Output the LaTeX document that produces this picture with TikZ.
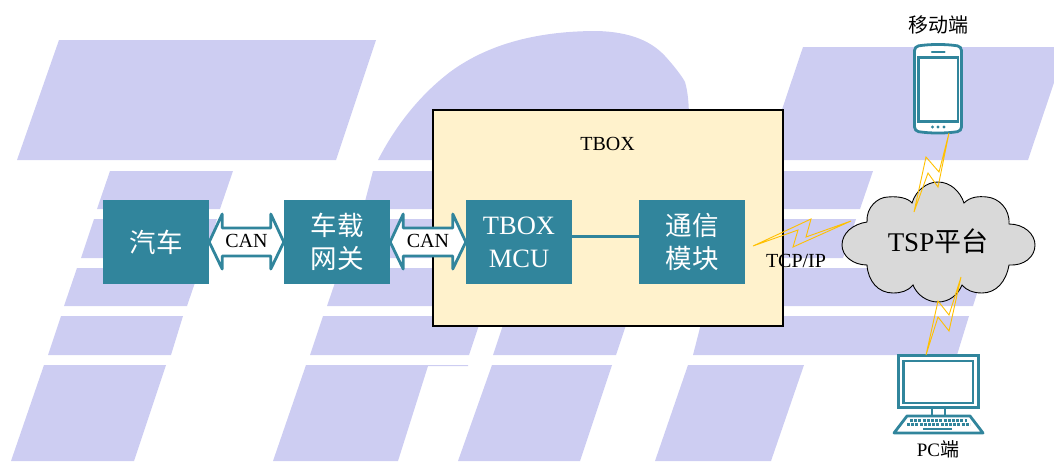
\documentclass[tikz,border=0pt]{standalone}
\usepackage{fontspec}
\setmainfont{Liberation Serif}
\newfontfamily\cjk{Noto Sans CJK SC}
\usetikzlibrary{calc}
\definecolor{bgblue}{HTML}{CDCDF2}
\definecolor{teal1}{HTML}{31859C}
\definecolor{cream}{HTML}{FFF2CC}
\definecolor{bolt}{HTML}{FFC000}
\definecolor{cloudgrey}{HTML}{D9D9D9}
\tikzset{
  bgshape/.style={fill=bgblue,draw=none},
  tealbox/.style={fill=teal1,text=white,minimum width=106pt,minimum height=84pt,inner sep=0pt,align=center,font=\fontsize{26.5}{33}\selectfont},
  canlabel/.style={inner sep=0pt,font=\fontsize{20}{24}\selectfont},
  plainlabel/.style={inner sep=0pt,font=\fontsize{20}{24}\selectfont},
  boltline/.style={draw=bolt,line width=0.9pt,line join=miter},
  devline/.style={draw=teal1,line width=2.8pt,fill=white},
  arrowline/.style={draw=teal1,line width=2.8pt,fill=white,line join=round}
}
\newcommand{\dblarrow}[2]{%
  \draw[arrowline] (#1.east) -- ($(#1.east)+(13,-28)$) -- ($(#1.east)+(13,-14)$)
    -- ($(#2.west)+(-13,-14)$) -- ($(#2.west)+(-13,-28)$) -- (#2.west)
    -- ($(#2.west)+(-13,27)$) -- ($(#2.west)+(-13,14)$)
    -- ($(#1.east)+(13,14)$) -- ($(#1.east)+(13,27)$) -- cycle;}
\begin{document}
\begin{tikzpicture}[x=1pt,y=-1pt]
\useasboundingbox (0,0) rectangle (1054,461);
\begin{scope}
\clip (0,0) rectangle (1054,461);
% background
\fill[bgshape] (59,40) -- (376,40) -- (336,160) -- (17,160) -- cycle;
\fill[bgshape] (110,171) -- (233,171) -- (220,209) -- (97,209) -- cycle;
\fill[bgshape] (94,219) -- (217,219) -- (205,258) -- (81,258) -- cycle;
\fill[bgshape] (77,268) -- (200,268) -- (187,306) -- (64,306) -- cycle;
\fill[bgshape] (61,316) -- (183,316) -- (171,355) -- (48,355) -- cycle;
\fill[bgshape] (44,365) -- (166,365) -- (134,461) -- (11,461) -- cycle;
\fill[bgshape] (378,160) .. controls (396,125) and (420,95) .. (450,72)
  .. controls (480,50) and (525,31) .. (597,31)
  .. controls (632,32) and (652,42) .. (665,56)
  .. controls (676,68) and (683,78) .. (685,82)
  .. controls (688,92) and (689,105) .. (689,120) -- (689,160) -- cycle;
\fill[bgshape] (803,47) -- (1066,47) -- (1028,160) -- (765,160) -- cycle;
\fill[bgshape] (373,171) -- (873,171) -- (860,209) -- (363,209) -- cycle;
\fill[bgshape] (357,219) -- (856,219) -- (843,258) -- (345,258) -- cycle;
\fill[bgshape] (340,268) -- (985,268) -- (973,306) -- (327,306) -- cycle;
\fill[bgshape] (323,316) -- (482,316) -- (469,355) -- (310,355) -- cycle;
\fill[bgshape] (506,316) -- (629,316) -- (616,355) -- (493,355) -- cycle;
\fill[bgshape] (703,316) -- (969,316) -- (957,355) -- (693,355) -- cycle;
\fill[bgshape] (306,365) -- (468,365) -- (468,366) -- (428,366) -- (398,461) -- (273,461) -- cycle;
\fill[bgshape] (492,365) -- (612,365) -- (580,461) -- (458,461) -- cycle;
\fill[bgshape] (688,365) -- (804,365) -- (771,461) -- (655,461) -- cycle;
\end{scope}
% TBOX frame
\node[draw=black,fill=cream,line width=1.5pt,minimum width=350pt,minimum height=216pt,inner sep=0pt] (tbox) at (608,218) {};
\node[plainlabel] (tboxlabel) at (607.5,144) {TBOX};
% boxes
\node[tealbox] (car) at (156,242) {\cjk 汽车};
\node[tealbox] (gw) at (337,242) {\cjk 车载\\\cjk 网关};
\node[tealbox] (mcu) at (519,242) {TBOX\\MCU};
\node[tealbox] (comm) at (692,242) {\cjk 通信\\\cjk 模块};
% connectors
\draw[teal1,line width=3pt] ($(mcu.east)+(0,-6)$) -- ($(comm.west)+(0,-6)$);
\dblarrow{car}{gw}
\dblarrow{gw}{mcu}
\node[canlabel] (can1) at (246.5,241) {CAN};
\node[canlabel] (can2) at (428,241) {CAN};
% cloud
\draw[fill=cloudgrey,draw=black,line width=0.9pt]
  (867,222) .. controls (866,207) and (878,197) .. (888,197)
  .. controls (898,196) and (908,198) .. (912,203)
  .. controls (916,190) and (927,182) .. (938,182)
  .. controls (950,182) and (960,191) .. (964,203)
  .. controls (970,197) and (978,196) .. (987,197)
  .. controls (998,198) and (1010,208) .. (1009,224)
  .. controls (1024,224) and (1035,234) .. (1035,245)
  .. controls (1035,257) and (1024,266) .. (1009,265)
  .. controls (1006,282) and (996,293) .. (982,293)
  .. controls (973,293) and (966,290) .. (962,285)
  .. controls (958,295) and (949,302) .. (938,302)
  .. controls (927,302) and (917,295) .. (913,285)
  .. controls (908,291) and (901,293) .. (893,293)
  .. controls (878,293) and (868,281) .. (867,265)
  .. controls (853,265) and (842,256) .. (842,245)
  .. controls (842,233) and (853,224) .. (867,222) -- cycle;
\node[inner sep=0pt,font=\fontsize{27}{32}\selectfont] (tsp) at (938,241) {TSP{\cjk 平台}};
% bolts
\draw[boltline] (753,246) -- (811,219) -- (806,237) -- (851,221) -- (793,247) -- (798,230) -- cycle;
\node[plainlabel] (tcp) at (796,261) {TCP/IP};
% phone
\draw[devline,rounded corners=4pt] (914.5,46.5) .. controls (930,44) and (946,44) .. (961.5,46.5) -- (961.5,131) .. controls (946,133.5) and (930,133.5) .. (914.5,131) -- cycle;
\draw[draw=teal1,line width=2.6pt,fill=white] (918.5,57.5) rectangle (958,121.5);
\draw[draw=teal1,line width=2.4pt,line cap=round] (932,52) -- (944.5,52);
\fill[teal1] (932.5,127) circle (1.6pt) (938,127) circle (1.6pt) (944,127) circle (1.6pt);
\node[inner sep=0pt,font=\fontsize{20}{24}\selectfont\cjk] (mobile) at (938,25) {移动端};
\draw[boltline] (949,133) -- (939,172) -- (926,157) -- (914,212) -- (928,173) -- (938,187) -- cycle;
% pc
\draw[devline] (898.5,355.5) rectangle (978.5,407.5);
\draw[draw=teal1,line width=2.6pt] (903.5,361) rectangle (973,403);
\draw[devline] (932,408) rectangle (945,416);
\draw[devline,line join=round] (907,416) -- (970,416) -- (983,433) -- (894,433) -- cycle;
\draw[teal1,line width=2.4pt,dash pattern=on 3pt off 1.2pt] (910,420.5) -- (967,420.5);
\draw[teal1,line width=2.4pt,dash pattern=on 3pt off 1.2pt] (907,424.5) -- (970,424.5);
\draw[teal1,line width=2.4pt] (923,429) -- (952,429);
\draw[boltline] (961,277) -- (949,315) -- (938,301) -- (926,355) -- (938,317) -- (949,331) -- cycle;
\node[inner sep=0pt,font=\fontsize{19}{23}\selectfont] (pc) at (938,449.5) {PC{\cjk 端}};
\end{tikzpicture}
\end{document}
